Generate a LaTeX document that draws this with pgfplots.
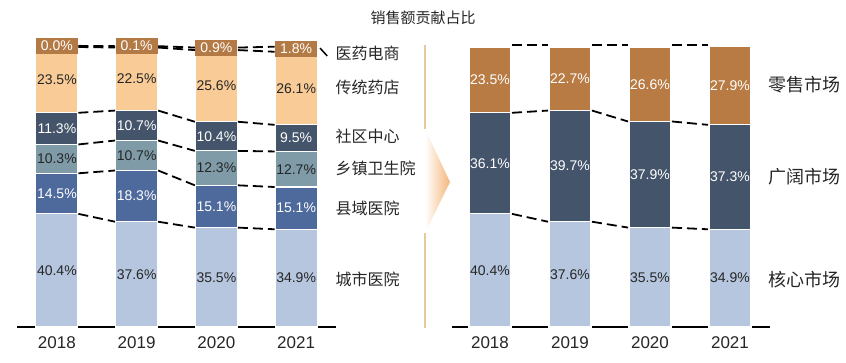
\documentclass[border=0pt]{standalone}
\usepackage{fontspec}
\setmainfont{Liberation Sans}
\newfontfamily\cjk{Noto Sans CJK SC}
\usepackage{pgfplots}
\pgfplotsset{compat=1.18}
\definecolor{cCity}{HTML}{B5C6DE}
\definecolor{cCounty}{HTML}{4E6A9C}
\definecolor{cTown}{HTML}{7E9BA7}
\definecolor{cComm}{HTML}{44546A}
\definecolor{cStore}{HTML}{F8CB97}
\definecolor{cEcom}{HTML}{B47A46}
\definecolor{cRetail}{HTML}{B87B44}
\definecolor{txt}{HTML}{262626}
\definecolor{cLine}{HTML}{E5CB9C}
\definecolor{cArrow}{HTML}{F4B67A}
\pgfplotsset{
  leftbase/.style={scale only axis, width=319pt, height=280pt, xmin=-0.5, xmax=3.5, ymin=0, ymax=100, clip=false, at={(17pt,35pt)}, anchor=south west},
  rightbase/.style={scale only axis, width=318pt, height=280pt, xmin=-0.475, xmax=3.5, ymin=0, ymax=100, clip=false, at={(452pt,35pt)}, anchor=south west},
  barax/.style={ybar stacked, bar width=42pt, axis x line*=bottom, axis y line=none,
    x axis line style={line width=2.8pt, -}, xtick={0,1,2,3}, xticklabels={2018,2019,2020,2021},
    major tick length=0pt, ytick=\empty,
    xticklabel style={font=\fontsize{17}{17}\selectfont, text=txt, yshift=-6pt}},
  seg/.style={fill=#1, draw=white, line width=1.2pt},
  dl/.style={black, line width=1.8pt, dash pattern=on 10pt off 5pt, unbounded coords=jump},
  lab/.style={draw=none, mark=none, nodes near coords={\pgfplotspointmeta\%}, point meta=explicit symbolic,
    nodes near coords align={center},
    every node near coord/.append style={font=\fontsize{14}{14}\selectfont, text=#1, anchor=center, inner sep=0pt}},
}
\begin{document}
\begin{tikzpicture}[x=1pt,y=1pt]
\path[use as bounding box] (0,0) rectangle (846,362);
% ---------------- left chart: bars ----------------
\begin{axis}[leftbase, barax]
\addplot[seg=cCity]   coordinates {(0,40.4) (1,37.6) (2,35.5) (3,34.9)};
\addplot[seg=cCounty] coordinates {(0,14.5) (1,18.3) (2,15.1) (3,15.1)};
\addplot[seg=cTown]   coordinates {(0,10.3) (1,10.7) (2,12.3) (3,12.7)};
\addplot[seg=cComm]   coordinates {(0,11.3) (1,10.7) (2,10.4) (3,9.5)};
\addplot[seg=cStore]  coordinates {(0,23.5) (1,22.5) (2,25.6) (3,26.1)};
\addplot[seg=cEcom]   coordinates {(0,0.0) (1,0.1) (2,0.9) (3,1.8)};
\end{axis}
% ---------------- left chart: lines & labels ----------------
\begin{axis}[leftbase, hide axis]
\addplot[dl] coordinates {(0.27,40.4)(0.73,37.6)(1,nan)(1.27,37.6)(1.73,35.5)(2,nan)(2.27,35.5)(2.73,34.9)};
\addplot[dl] coordinates {(0.27,54.9)(0.73,55.9)(1,nan)(1.27,55.9)(1.73,50.6)(2,nan)(2.27,50.6)(2.73,50.0)};
\addplot[dl] coordinates {(0.27,65.2)(0.73,66.6)(1,nan)(1.27,66.6)(1.73,62.9)(2,nan)(2.27,62.9)(2.73,62.7)};
\addplot[dl] coordinates {(0.27,76.5)(0.73,77.3)(1,nan)(1.27,77.3)(1.73,73.3)(2,nan)(2.27,73.3)(2.73,72.2)};
\addplot[dl] coordinates {(0.27,100.0)(0.73,99.8)(1,nan)(1.27,99.8)(1.73,98.9)(2,nan)(2.27,98.9)(2.73,98.3)};
\addplot[dl] coordinates {(0.27,100.4)(0.73,100.3)(1,nan)(1.27,100.3)(1.73,99.8)(2,nan)(2.27,99.8)(2.73,100.1)};
\addplot[black, line width=1.5pt] coordinates {(3.30,99.6) (3.39,96.8)};
\addplot[lab=txt]   coordinates {(0,20.2)[40.4] (1,18.8)[37.6] (2,17.75)[35.5] (3,17.45)[34.9]};
\addplot[lab=white] coordinates {(0,47.65)[14.5] (1,46.75)[18.3] (2,43.05)[15.1] (3,42.45)[15.1]};
\addplot[lab=txt]   coordinates {(0,60.05)[10.3] (1,61.25)[10.7] (2,56.75)[12.3] (3,56.35)[12.7]};
\addplot[lab=white] coordinates {(0,70.85)[11.3] (1,71.95)[10.7] (2,68.1)[10.4] (3,67.45)[9.5]};
\addplot[lab=txt]   coordinates {(0,88.25)[23.5] (1,88.55)[22.5] (2,86.1)[25.6] (3,85.25)[26.1]};
\addplot[lab=white, every node near coord/.append style={fill=cEcom, minimum width=42pt, minimum height=16pt}]
   coordinates {(0,100.4)[0.0] (1,100.3)[0.1] (2,99.8)[0.9] (3,99.4)[1.8]};
\node[anchor=west, font=\cjk\fontsize{16}{16}\selectfont, text=txt] at (axis cs:3.45,97.9) {医药电商};
\node[anchor=west, font=\cjk\fontsize{16}{16}\selectfont, text=txt] at (axis cs:3.45,85.4) {传统药店};
\node[anchor=west, font=\cjk\fontsize{16}{16}\selectfont, text=txt] at (axis cs:3.45,67.9) {社区中心};
\node[anchor=west, font=\cjk\fontsize{16}{16}\selectfont, text=txt] at (axis cs:3.45,56.8) {乡镇卫生院};
\node[anchor=west, font=\cjk\fontsize{16}{16}\selectfont, text=txt] at (axis cs:3.45,42.5) {县域医院};
\node[anchor=west, font=\cjk\fontsize{16}{16}\selectfont, text=txt] at (axis cs:3.45,17.1) {城市医院};
\end{axis}
% ---------------- right chart: bars ----------------
\begin{axis}[rightbase, barax]
\addplot[seg=cCity]   coordinates {(0,40.4) (1,37.6) (2,35.5) (3,34.9)};
\addplot[seg=cComm]   coordinates {(0,36.1) (1,39.7) (2,37.9) (3,37.3)};
\addplot[seg=cRetail] coordinates {(0,23.5) (1,22.7) (2,26.6) (3,27.9)};
\end{axis}
% ---------------- right chart: lines & labels ----------------
\begin{axis}[rightbase, hide axis]
\addplot[dl] coordinates {(0.275,40.4)(0.725,37.6)(1,nan)(1.275,37.6)(1.725,35.5)(2,nan)(2.275,35.5)(2.725,34.9)};
\addplot[dl] coordinates {(0.275,76.5)(0.725,77.3)(1,nan)(1.275,77.3)(1.725,73.4)(2,nan)(2.275,73.4)(2.725,72.2)};
\addplot[dl] coordinates {(0.275,100.6)(0.725,100.6)(1,nan)(1.275,100.6)(1.725,100.6)(2,nan)(2.275,100.6)(2.725,100.6)};
\addplot[lab=txt]   coordinates {(0,20.2)[40.4] (1,18.8)[37.6] (2,17.75)[35.5] (3,17.45)[34.9]};
\addplot[lab=white] coordinates {(0,58.45)[36.1] (1,57.45)[39.7] (2,54.45)[37.9] (3,53.55)[37.3]};
\addplot[lab=white] coordinates {(0,88.25)[23.5] (1,88.65)[22.7] (2,86.7)[26.6] (3,86.15)[27.9]};
\node[anchor=west, font=\cjk\fontsize{18}{18}\selectfont, text=txt] at (axis cs:3.44,86.4) {零售市场};
\node[anchor=west, font=\cjk\fontsize{18}{18}\selectfont, text=txt] at (axis cs:3.44,53.6) {广阔市场};
\node[anchor=west, font=\cjk\fontsize{18}{18}\selectfont, text=txt] at (axis cs:3.44,17.1) {核心市场};
\end{axis}
% ---------------- separator arrow and title ----------------
\draw[cLine, line width=1.2pt] (425,317) -- (425,233);
\draw[cLine, line width=1.2pt] (425,129) -- (425,34);
\shade[left color=white, right color=cArrow] (425,233) -- (450,180) -- (425,129) -- cycle;
\node[font=\cjk\fontsize{15}{15}\selectfont, text=txt] at (423,344) {销售额贡献占比};
\end{tikzpicture}
\end{document}
